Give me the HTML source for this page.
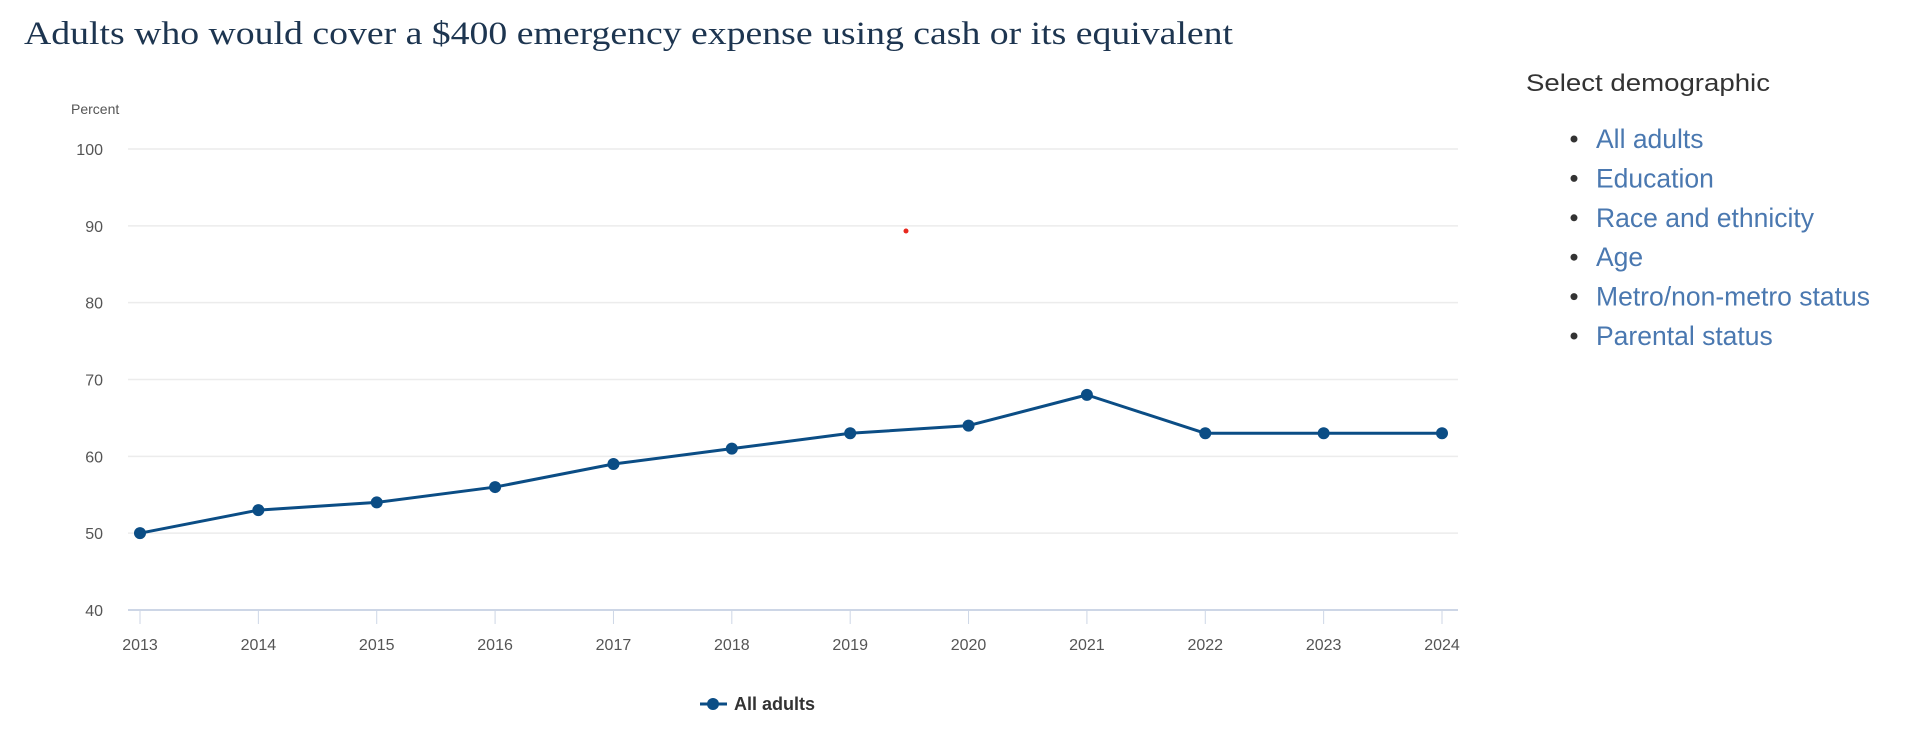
<!DOCTYPE html>
<html><head><meta charset="utf-8"><style>
html,body{margin:0;padding:0;background:#fff;width:1910px;height:732px;overflow:hidden}
svg{display:block}
</style></head><body>
<svg width="1910" height="732" xmlns="http://www.w3.org/2000/svg">
<text x="24" y="44" font-family="Liberation Serif, serif" font-size="33" fill="#1d3550" textLength="1209" lengthAdjust="spacingAndGlyphs">Adults who would cover a $400 emergency expense using cash or its equivalent</text>
<text x="71" y="114" font-family="Liberation Sans, sans-serif" font-size="14" fill="#555">Percent</text>
<g id="grid"></g><g id="xaxis"></g><g id="series"></g>
<circle cx="906" cy="231" r="2.5" fill="#e8281e"/>
<g>
<line x1="700" y1="704" x2="727" y2="704" stroke="#0b4d85" stroke-width="3"/>
<circle cx="713" cy="704" r="6" fill="#0b4d85"/>
<text x="734" y="710" font-family="Liberation Sans, sans-serif" font-size="18" font-weight="bold" fill="#333">All adults</text>
</g>
<text x="1526" y="91" font-family="Liberation Sans, sans-serif" font-size="24" fill="#333" textLength="244" lengthAdjust="spacingAndGlyphs">Select demographic</text>
<g id="menu" font-family="Liberation Sans, sans-serif" font-size="26.5" fill="#4a78b0"></g>
</svg>
<script>
const years=["2013","2014","2015","2016","2017","2018","2019","2020","2021","2022","2023","2024"];
const values=[50,53,54,56,59,61,63,64,68,63,63,63];
const yTicks=[40,50,60,70,80,90,100];
const menuItems=["All adults","Education","Race and ethnicity","Age","Metro/non-metro status","Parental status"];
const NS="http://www.w3.org/2000/svg";
const X0=140,X1=1442,Y40=610,Y100=149;
const xs=i=>X0+(X1-X0)*i/(years.length-1);
const ys=v=>Y40-(v-40)*(Y40-Y100)/60;
function mk(t,a,p){const e=document.createElementNS(NS,t);for(const k in a)e.setAttribute(k,a[k]);p.appendChild(e);return e;}
const grid=document.getElementById('grid');
yTicks.forEach(v=>{
 const l=mk('line',{x1:128,x2:1458,y1:ys(v),y2:ys(v),stroke:v===40?'#cdd6e6':'#ececec','stroke-width':v===40?2:1.5},grid);
 
 
 const t=mk('text',{x:103,y:ys(v)+6,'text-anchor':'end','font-family':'Liberation Sans, sans-serif','font-size':16,fill:'#555'},grid);
 t.textContent=v;
 
 
});
const xa=document.getElementById('xaxis');
years.forEach((y,i)=>{
 const l=mk('line',{x1:xs(i),x2:xs(i),y1:610,y2:624,stroke:'#cdd6e6','stroke-width':1},xa);
 
 
 const t=mk('text',{x:xs(i),y:650,'text-anchor':'middle','font-family':'Liberation Sans, sans-serif','font-size':16,fill:'#555'},xa);
 t.textContent=y;
 
 
});
const s=document.getElementById('series');
const pl=mk('polyline',{points:values.map((v,i)=>xs(i)+','+ys(v)).join(' '),fill:'none',stroke:'#0b4d85','stroke-width':3,'stroke-linejoin':'round'},s);


values.forEach((v,i)=>{
 const c=mk('circle',{cx:xs(i),cy:ys(v),r:6,fill:'#0b4d85'},s);
 
 
});
const m=document.getElementById('menu');
menuItems.forEach((t,i)=>{
 const y=139+i*39.4;
 const b=mk('circle',{cx:1574,cy:y,r:3.5,fill:'#333'},m);
 
 
 const e=mk('text',{x:1596,y:y+9},m);
 e.textContent=t;
 
 
});
</script>
</body></html>
